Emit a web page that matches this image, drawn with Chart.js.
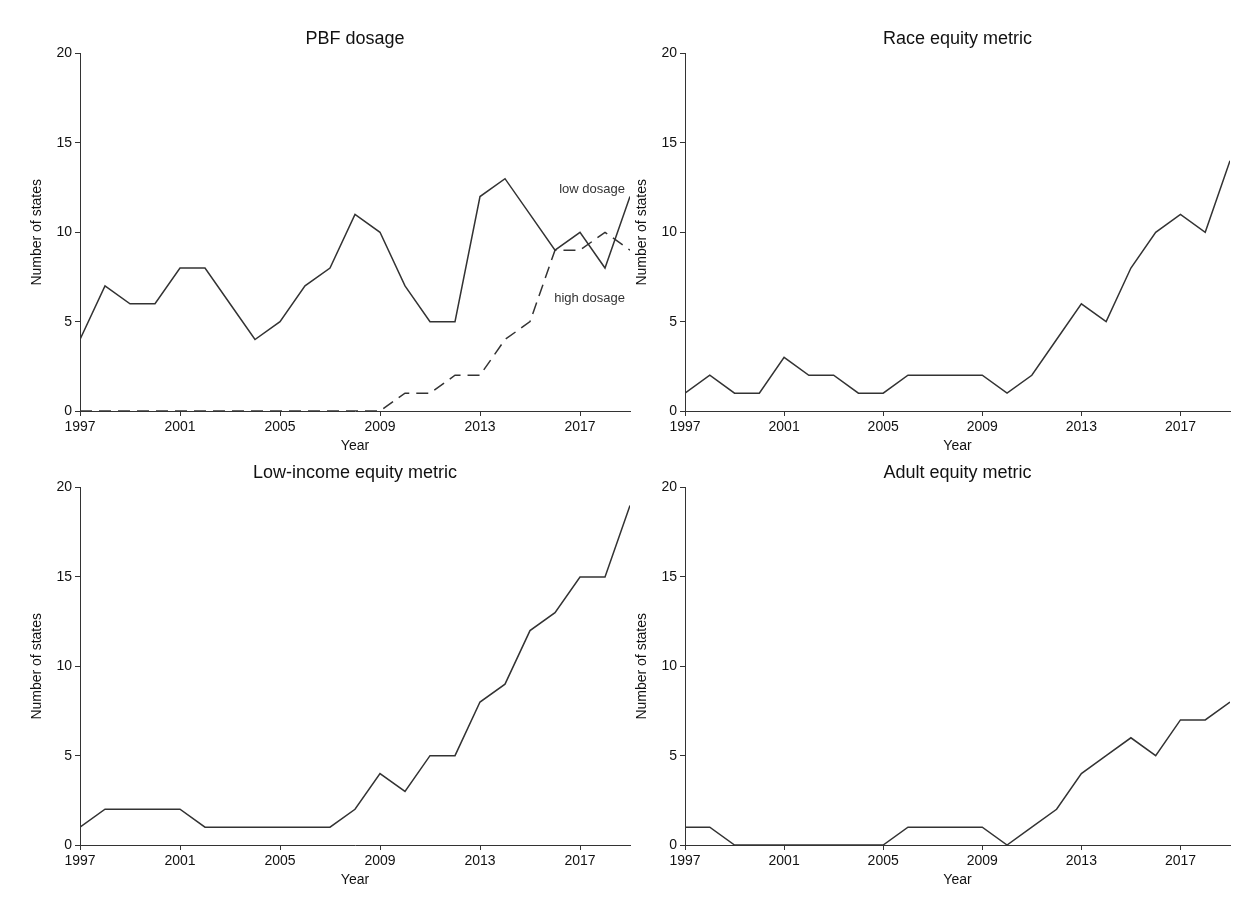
<!DOCTYPE html>
<html>
<head>
<meta charset="utf-8">
<script src="https://cdn.jsdelivr.net/npm/chart.js@4/dist/chart.umd.min.js"></script>
<style>
  body { margin: 0; background: #fff; }
  .panel { position: absolute; }
</style>
</head>
<body>
<div class="panel" style="left:0;top:0;width:645px;height:465px"><canvas id="c1"></canvas></div>
<div class="panel" style="left:605px;top:0;width:640px;height:465px"><canvas id="c2"></canvas></div>
<div class="panel" style="left:0;top:434px;width:645px;height:465px"><canvas id="c3"></canvas></div>
<div class="panel" style="left:605px;top:434px;width:640px;height:465px"><canvas id="c4"></canvas></div>
<script>
const years = [1997, 1998, 1999, 2000, 2001, 2002, 2003, 2004, 2005, 2006, 2007, 2008,
               2009, 2010, 2011, 2012, 2013, 2014, 2015, 2016, 2017, 2018, 2019];
const yearTicks = [1997, 2001, 2005, 2009, 2013, 2017];
const stateTicks = [0, 5, 10, 15, 20];

const lowDosage  = [4, 7, 6, 6, 8, 8, 6, 4, 5, 7, 8, 11, 10, 7, 5, 5, 12, 13, 11, 9, 10, 8, 12];
const highDosage = [0, 0, 0, 0, 0, 0, 0, 0, 0, 0, 0, 0, 0, 1, 1, 2, 2, 4, 5, 9, 9, 10, 9];
const raceMetric = [1, 2, 1, 1, 3, 2, 2, 1, 1, 2, 2, 2, 2, 1, 2, 4, 6, 5, 8, 10, 11, 10, 14];
const lowIncomeMetric = [1, 2, 2, 2, 2, 1, 1, 1, 1, 1, 1, 2, 4, 3, 5, 5, 8, 9, 12, 13, 15, 15, 19];
const adultMetric = [1, 1, 0, 0, 0, 0, 0, 0, 0, 1, 1, 1, 1, 0, 1, 2, 4, 5, 6, 5, 7, 7, 8];

const ink = '#333';
const font = 'Liberation Sans, Arial, Helvetica, sans-serif';

function toPoints(values) {
  return values.map((v, i) => ({ x: years[i], y: v }));
}

// labels "low dosage" / "high dosage" placed in data space on the first panel
const dosageLabels = {
  id: 'dosageLabels',
  afterDatasetsDraw(chart) {
    const ctx = chart.ctx;
    const xs = chart.scales.x, ys = chart.scales.y;
    ctx.save();
    ctx.fillStyle = ink;
    ctx.font = '13px ' + font;
    ctx.textAlign = 'right';
    ctx.textBaseline = 'middle';
    ctx.fillText('low dosage', xs.getPixelForValue(2018.8), ys.getPixelForValue(12.4));
    ctx.fillText('high dosage', xs.getPixelForValue(2018.8), ys.getPixelForValue(6.3));
    ctx.restore();
  }
};

function makePanel(id, title, datasets, plugins) {
  new Chart(document.getElementById(id), {
    type: 'line',
    data: { datasets: datasets },
    options: {
      responsive: true,
      maintainAspectRatio: false,
      animation: false,
      layout: { padding: { left: 0, right: 15, top: 0, bottom: 0 } },
      elements: { point: { radius: 0 }, line: { tension: 0 } },
      plugins: {
        legend: { display: false },
        tooltip: { enabled: false },
        title: {
          display: true,
          text: title,
          fullSize: false,
          color: '#111',
          font: { family: font, size: 18, weight: 'normal' },
          padding: { top: 28, bottom: 4 }
        }
      },
      scales: {
        x: {
          type: 'linear',
          min: 1997,
          max: 2019,
          afterBuildTicks: s => { s.ticks = yearTicks.map(v => ({ value: v })); },
          afterFit: s => { s.height = 54; },
          grid: { drawOnChartArea: false, tickLength: 5, color: ink },
          border: { color: ink, width: 1 },
          ticks: { color: '#111', font: { family: font, size: 14 }, padding: 3, maxRotation: 0,
                   callback: v => String(v) },
          title: { display: true, text: 'Year', color: '#111',
                   font: { family: font, size: 14 }, padding: { top: 2, bottom: 10 } }
        },
        y: {
          min: 0,
          max: 20,
          afterBuildTicks: s => { s.ticks = stateTicks.map(v => ({ value: v })); },
          afterFit: s => { s.width = 80; },
          grid: { drawOnChartArea: false, tickLength: 5, color: ink },
          border: { color: ink, width: 1 },
          ticks: { color: '#111', font: { family: font, size: 14 }, padding: 3 },
          title: { display: true, text: 'Number of states', color: '#111',
                   font: { family: font, size: 14 }, padding: { top: 29, bottom: 4 } }
        }
      }
    },
    plugins: plugins || []
  });
}

function solid(values) {
  return { data: toPoints(values), borderColor: ink, borderWidth: 1.5, fill: false };
}

makePanel('c1', 'PBF dosage', [
  solid(lowDosage),
  Object.assign(solid(highDosage), { borderDash: [12, 7] })
], [dosageLabels]);
makePanel('c2', 'Race equity metric', [solid(raceMetric)]);
makePanel('c3', 'Low-income equity metric', [solid(lowIncomeMetric)]);
makePanel('c4', 'Adult equity metric', [solid(adultMetric)]);
</script>
</body>
</html>
